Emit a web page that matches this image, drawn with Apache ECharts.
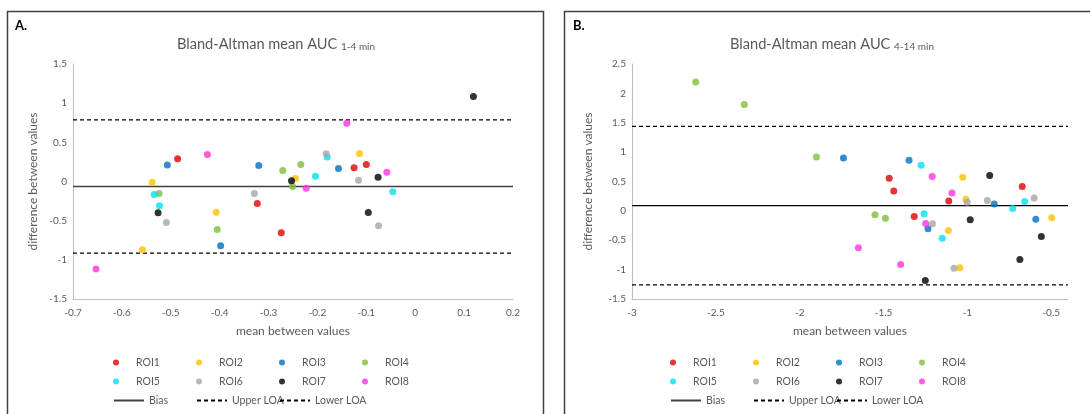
<!DOCTYPE html>
<html>
<head>
<meta charset="utf-8">
<script src="https://cdn.jsdelivr.net/npm/echarts@6/dist/echarts.min.js"></script>
<style>
html,body{margin:0;padding:0;background:#fff;}
#c{width:1090px;height:414px;}
</style>
</head>
<body>
<div id="c"></div>
<script>
// ---------- DATA ----------
const roiNames = ['ROI1','ROI2','ROI3','ROI4','ROI5','ROI6','ROI7','ROI8'];
const lineNames = ['Bias','Upper LOA','Lower LOA'];

// Panel A: [mean between values, difference between values]
const a_ROI1 = [[-0.486,0.289],[-0.323,-0.280],[-0.274,-0.654],[-0.125,0.174],[-0.100,0.217]];
const a_ROI2 = [[-0.558,-0.871],[-0.538,-0.008],[-0.407,-0.391],[-0.245,0.038],[-0.114,0.357]];
const a_ROI3 = [[-0.507,0.212],[-0.398,-0.820],[-0.320,0.204],[-0.157,0.166]];
const a_ROI4 = [[-0.524,-0.153],[-0.405,-0.612],[-0.271,0.140],[-0.251,-0.064],[-0.234,0.217]];
const a_ROI5 = [[-0.534,-0.166],[-0.523,-0.310],[-0.204,0.068],[-0.180,0.314],[-0.046,-0.132]];
const a_ROI6 = [[-0.509,-0.523],[-0.329,-0.153],[-0.182,0.353],[-0.116,0.017],[-0.075,-0.565]];
const a_ROI7 = [[-0.526,-0.400],[-0.253,0.008],[-0.096,-0.395],[-0.076,0.055],[0.119,1.085]];
const a_ROI8 = [[-0.653,-1.118],[-0.425,0.344],[-0.223,-0.085],[-0.140,0.745],[-0.058,0.119]];
const a_bias = -0.064, a_upper = 0.786, a_lower = -0.914;

// Panel B
const b_ROI1 = [[-1.466,0.556],[-1.439,0.340],[-1.317,-0.096],[-1.111,0.170],[-0.673,0.414]];
const b_ROI2 = [[-1.113,-0.334],[-1.045,-0.969],[-1.028,0.573],[-1.009,0.198],[-0.497,-0.119]];
const b_ROI3 = [[-1.739,0.901],[-1.348,0.862],[-1.235,-0.306],[-0.840,0.119],[-0.592,-0.142]];
const b_ROI4 = [[-2.620,2.195],[-2.330,1.810],[-1.900,0.918],[-1.551,-0.068],[-1.489,-0.125]];
const b_ROI5 = [[-1.276,0.777],[-1.258,-0.051],[-1.150,-0.465],[-0.730,0.040],[-0.658,0.159]];
const b_ROI6 = [[-1.208,-0.221],[-1.080,-0.975],[-1.001,0.147],[-0.881,0.176],[-0.602,0.221]];
const b_ROI7 = [[-1.251,-1.185],[-0.983,-0.153],[-0.867,0.601],[-0.687,-0.828],[-0.559,-0.437]];
const b_ROI8 = [[-1.650,-0.629],[-1.398,-0.913],[-1.249,-0.215],[-1.210,0.584],[-1.092,0.306]];
const b_bias = 0.09, b_upper = 1.44, b_lower = -1.26;

// axis ranges
const a_xRange = [-0.7, 0.2], a_yRange = [-1.5, 1.5];
const b_xRange = [-3, -0.4], b_yRange = [-1.5, 2.5];

// ---------- STYLE ----------
const roiColors = ['#E00000','#FFC000','#0070C0','#7CBF3B','#00E0F0','#A6A6A6','#000000','#FF33DD'];
const FONT = 'Lato, "Open Sans", sans-serif';
const GREY = '#595959';

const aData = [a_ROI1,a_ROI2,a_ROI3,a_ROI4,a_ROI5,a_ROI6,a_ROI7,a_ROI8];
const bData = [b_ROI1,b_ROI2,b_ROI3,b_ROI4,b_ROI5,b_ROI6,b_ROI7,b_ROI8];

function fmt(v){
  if (Math.abs(v*10 - Math.round(v*10)) > 1e-6) return '';
  return String(Math.round(v*10)/10);
}
function fmtHalf(v){
  if (Math.abs(v*2 - Math.round(v*2)) > 1e-6) return '';
  return String(Math.round(v*10)/10);
}

function xAxis(idx, range, interval, formatter){
  return {
    gridIndex: idx, type:'value', min: range[0], max: range[1], interval: interval,
    name:'mean between values', nameLocation:'middle', nameGap: 26,
    nameTextStyle:{color:GREY, fontSize:12, fontFamily:FONT},
    axisLine:{onZero:false, lineStyle:{color:'#BFBFBF', width:1}},
    axisTick:{show:false},
    splitLine:{show:false},
    axisLabel:{color:GREY, fontSize:10, fontFamily:FONT, margin:9, formatter: formatter}
  };
}
function yAxis(idx, range, gap){
  return {
    gridIndex: idx, type:'value', min: range[0], max: range[1], interval: 0.5,
    name:'difference between values', nameLocation:'middle', nameGap: gap,
    nameTextStyle:{color:GREY, fontSize:12, fontFamily:FONT},
    axisLine:{show:true, onZero:false, lineStyle:{color:'#BFBFBF', width:1}},
    axisTick:{show:false},
    splitLine:{show:false},
    axisLabel:{color:GREY, fontSize:10, fontFamily:FONT, margin:6, formatter: fmtHalf}
  };
}

const series = [];
[aData, bData].forEach((panel, p) => {
  panel.forEach((d, i) => {
    series.push({
      type:'scatter', name: roiNames[i], xAxisIndex:p, yAxisIndex:p,
      data: d, symbol:'circle', symbolSize:7,
      itemStyle:{color: roiColors[i]}, z:3
    });
  });
  const xr = p === 0 ? a_xRange : b_xRange;
  const vals = p === 0 ? [a_bias, a_upper, a_lower] : [b_bias, b_upper, b_lower];
  vals.forEach((v, k) => {
    series.push({
      type:'line', name: lineNames[k], xAxisIndex:p, yAxisIndex:p,
      data: [[xr[0], v],[xr[1], v]], symbol:'none', silent:true,
      lineStyle: k === 0 ? {color: p===0 ? '#404040' : '#000', width: p===0 ? 1.5 : 1.2, type:'solid'}
                         : {color:'#000', width:1.2, type:[4,3]},
      itemStyle:{color:'#000'}, z:2
    });
  });
});

// one legend per entry, laid out on a 4-column grid
const legends = [];
function addLegend(left, top, name, isLine){
  const l = {
    left:left, top:top, padding:0, orient:'horizontal',
    itemWidth:30, itemHeight:6, selectedMode:false,
    data:[ isLine ? {name:name} : {name:name, icon:'circle'} ],
    textStyle:{color:GREY, fontSize:10.5, fontFamily:FONT}
  };
  if (isLine) l.itemStyle = {opacity:0};
  legends.push(l);
}
[113, 670].forEach(x0 => {
  roiNames.forEach((n, i) => addLegend(x0 + 83*(i%4), i < 4 ? 357 : 376, n, false));
  lineNames.forEach((n, k) => addLegend(x0 + 83*k, 395, n, true));
});

function titleOf(left, sub){
  return {
    text: '{a|Bland-Altman mean AUC }{b|' + sub + '}',
    left: left, top: 27, textAlign:'center',
    textStyle:{
      fontWeight:'normal',
      rich:{
        a:{fontSize:14.6, fontWeight:'normal', color:GREY, fontFamily:FONT, lineHeight:20, verticalAlign:'bottom'},
        b:{fontSize:10, fontWeight:'normal', color:GREY, fontFamily:FONT, lineHeight:20, verticalAlign:'bottom', padding:[6,0,0,0]}
      }
    }
  };
}

const option = {
  backgroundColor:'#fff',
  animation:false,
  title:[ titleOf(271, '1-4 min'), titleOf(827, '4-14 min') ],
  grid:[
    {left:73, top:64, width:440, height:235},
    {left:632, top:64, width:436, height:235}
  ],
  xAxis:[ xAxis(0, a_xRange, 0.1, fmt), xAxis(1, b_xRange, 0.5, fmtHalf) ],
  yAxis:[ yAxis(0, a_yRange, 34), yAxis(1, b_yRange, 38) ],
  legend: legends,
  graphic:[
    {type:'rect', shape:{x:7.5, y:11.5, width:536, height:420}, style:{fill:'none', stroke:'#404040', lineWidth:1.5}, silent:true},
    {type:'rect', shape:{x:564.5, y:11.5, width:540, height:420}, style:{fill:'none', stroke:'#404040', lineWidth:1.5}, silent:true},
    {type:'text', left:15, top:19, style:{text:'A.', font:'bold 13px ' + FONT, fill:'#000'}},
    {type:'text', left:573, top:19, style:{text:'B.', font:'bold 13px ' + FONT, fill:'#000'}}
  ],
  series: series
};

const chart = echarts.init(document.getElementById('c'), null, {renderer:'canvas'});
chart.setOption(option);
</script>
</body>
</html>
